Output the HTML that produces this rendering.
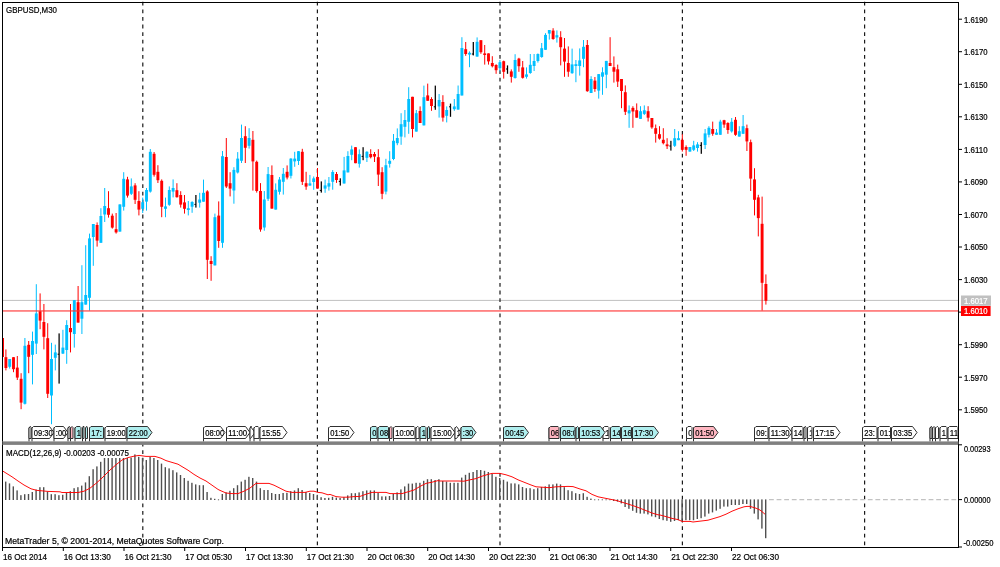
<!DOCTYPE html>
<html><head><meta charset="utf-8"><title>GBPUSD,M30</title>
<style>html,body{margin:0;padding:0;background:#fff;overflow:hidden}body{width:1000px;height:567px;font-family:"Liberation Sans",sans-serif}</style></head>
<body>
<svg width="1000" height="567" viewBox="0 0 1000 567" style="display:block;will-change:transform">
<rect x="0" y="0" width="1000" height="567" fill="#ffffff"/>
<rect x="3" y="299.9" width="955" height="1" fill="#c0c0c0"/>
<line x1="142.8" y1="1.8" x2="142.8" y2="441" stroke="#1a1a1a" stroke-width="1.2" stroke-dasharray="3.8 3.8"/>
<line x1="317.4" y1="1.8" x2="317.4" y2="441" stroke="#1a1a1a" stroke-width="1.2" stroke-dasharray="3.8 3.8"/>
<line x1="500.0" y1="1.8" x2="500.0" y2="441" stroke="#1a1a1a" stroke-width="1.2" stroke-dasharray="3.8 3.8"/>
<line x1="682.4" y1="1.8" x2="682.4" y2="441" stroke="#1a1a1a" stroke-width="1.2" stroke-dasharray="3.8 3.8"/>
<line x1="864.6" y1="1.8" x2="864.6" y2="441" stroke="#1a1a1a" stroke-width="1.2" stroke-dasharray="3.8 3.8"/>
<line x1="142.8" y1="442.6" x2="142.8" y2="545.2" stroke="#1a1a1a" stroke-width="1.2" stroke-dasharray="3.8 3.8"/>
<line x1="317.4" y1="442.6" x2="317.4" y2="545.2" stroke="#1a1a1a" stroke-width="1.2" stroke-dasharray="3.8 3.8"/>
<line x1="500.0" y1="442.6" x2="500.0" y2="545.2" stroke="#1a1a1a" stroke-width="1.2" stroke-dasharray="3.8 3.8"/>
<line x1="682.4" y1="442.6" x2="682.4" y2="545.2" stroke="#1a1a1a" stroke-width="1.2" stroke-dasharray="3.8 3.8"/>
<line x1="864.6" y1="442.6" x2="864.6" y2="545.2" stroke="#1a1a1a" stroke-width="1.2" stroke-dasharray="3.8 3.8"/>
<rect x="3" y="338.0" width="1" height="19.0" fill="#ff0000"/>
<rect x="5.40" y="349.4" width="1" height="21.0" fill="#ff0000"/>
<rect x="4.45" y="357.2" width="2.9" height="10.8" fill="#ff0000"/>
<rect x="9.20" y="359.0" width="1" height="9.6" fill="#00bfff"/>
<rect x="8.25" y="359.0" width="2.9" height="7.8" fill="#00bfff"/>
<rect x="13.00" y="357.2" width="1" height="15.0" fill="#ff0000"/>
<rect x="12.05" y="357.2" width="2.9" height="12.0" fill="#ff0000"/>
<rect x="16.80" y="356.0" width="1" height="24.0" fill="#ff0000"/>
<rect x="15.85" y="367.6" width="2.9" height="10.0" fill="#ff0000"/>
<rect x="20.60" y="373.2" width="1" height="36.0" fill="#ff0000"/>
<rect x="19.65" y="378.8" width="2.9" height="23.8" fill="#ff0000"/>
<rect x="24.40" y="338.0" width="1" height="66.5" fill="#00bfff"/>
<rect x="23.45" y="345.8" width="2.9" height="58.0" fill="#00bfff"/>
<rect x="28.20" y="341.0" width="1" height="32.2" fill="#ff0000"/>
<rect x="27.25" y="344.8" width="2.9" height="12.0" fill="#ff0000"/>
<rect x="32.00" y="331.6" width="1" height="52.8" fill="#00bfff"/>
<rect x="31.05" y="341.0" width="2.9" height="13.8" fill="#00bfff"/>
<rect x="35.80" y="284.2" width="1" height="69.8" fill="#00bfff"/>
<rect x="34.85" y="313.4" width="2.9" height="30.2" fill="#00bfff"/>
<rect x="39.60" y="293.4" width="1" height="35.8" fill="#ff0000"/>
<rect x="38.65" y="311.2" width="2.9" height="9.4" fill="#ff0000"/>
<rect x="43.40" y="304.0" width="1" height="45.4" fill="#ff0000"/>
<rect x="42.45" y="322.0" width="2.9" height="14.8" fill="#ff0000"/>
<rect x="47.20" y="323.2" width="1" height="74.8" fill="#ff0000"/>
<rect x="46.25" y="338.2" width="2.9" height="55.6" fill="#ff0000"/>
<rect x="51.00" y="342.8" width="1" height="81.4" fill="#00bfff"/>
<rect x="50.05" y="359.0" width="2.9" height="36.5" fill="#00bfff"/>
<rect x="54.80" y="344.6" width="1" height="25.8" fill="#00bfff"/>
<rect x="53.85" y="352.4" width="2.9" height="5.4" fill="#00bfff"/>
<rect x="58.48" y="333.4" width="1.25" height="50.2" fill="#000000"/>
<rect x="57.60" y="353.7" width="1.5" height="1" fill="#000000"/>
<rect x="62.40" y="329.8" width="1" height="24.2" fill="#00bfff"/>
<rect x="61.45" y="347.6" width="2.9" height="6.0" fill="#00bfff"/>
<rect x="66.20" y="320.2" width="1" height="43.6" fill="#00bfff"/>
<rect x="65.25" y="325.0" width="2.9" height="25.0" fill="#00bfff"/>
<rect x="70.00" y="304.0" width="1" height="48.4" fill="#ff0000"/>
<rect x="69.05" y="328.0" width="2.9" height="4.2" fill="#ff0000"/>
<rect x="73.80" y="300.2" width="1" height="47.4" fill="#00bfff"/>
<rect x="72.85" y="300.2" width="2.9" height="33.8" fill="#00bfff"/>
<rect x="77.60" y="286.0" width="1" height="36.6" fill="#ff0000"/>
<rect x="76.65" y="302.2" width="2.9" height="20.4" fill="#ff0000"/>
<rect x="81.40" y="265.2" width="1" height="68.8" fill="#00bfff"/>
<rect x="80.45" y="302.2" width="2.9" height="16.5" fill="#00bfff"/>
<rect x="85.20" y="245.2" width="1" height="59.4" fill="#00bfff"/>
<rect x="84.25" y="295.0" width="2.9" height="9.6" fill="#00bfff"/>
<rect x="89.00" y="233.6" width="1" height="77.0" fill="#00bfff"/>
<rect x="88.05" y="238.4" width="2.9" height="59.4" fill="#00bfff"/>
<rect x="92.80" y="224.0" width="1" height="41.8" fill="#00bfff"/>
<rect x="91.85" y="224.0" width="2.9" height="13.0" fill="#00bfff"/>
<rect x="96.60" y="222.4" width="1" height="24.2" fill="#ff0000"/>
<rect x="95.65" y="225.0" width="2.9" height="15.6" fill="#ff0000"/>
<rect x="100.40" y="208.2" width="1" height="34.6" fill="#00bfff"/>
<rect x="99.45" y="216.0" width="2.9" height="26.8" fill="#00bfff"/>
<rect x="104.20" y="188.0" width="1" height="34.0" fill="#00bfff"/>
<rect x="103.25" y="206.0" width="2.9" height="8.5" fill="#00bfff"/>
<rect x="108.00" y="191.2" width="1" height="26.4" fill="#ff0000"/>
<rect x="107.05" y="208.2" width="2.9" height="6.6" fill="#ff0000"/>
<rect x="111.80" y="213.6" width="1" height="15.0" fill="#ff0000"/>
<rect x="110.85" y="215.7" width="2.9" height="11.9" fill="#ff0000"/>
<rect x="115.60" y="213.0" width="1" height="20.6" fill="#ff0000"/>
<rect x="114.65" y="229.2" width="2.9" height="3.2" fill="#ff0000"/>
<rect x="119.40" y="204.4" width="1" height="27.2" fill="#00bfff"/>
<rect x="118.45" y="204.4" width="2.9" height="27.2" fill="#00bfff"/>
<rect x="123.20" y="172.2" width="1" height="38.4" fill="#00bfff"/>
<rect x="122.25" y="178.8" width="2.9" height="28.0" fill="#00bfff"/>
<rect x="127.00" y="176.8" width="1" height="20.8" fill="#ff0000"/>
<rect x="126.05" y="179.4" width="2.9" height="16.2" fill="#ff0000"/>
<rect x="130.80" y="178.4" width="1" height="16.6" fill="#00bfff"/>
<rect x="129.85" y="186.4" width="2.9" height="7.4" fill="#00bfff"/>
<rect x="134.60" y="183.2" width="1" height="20.8" fill="#ff0000"/>
<rect x="133.65" y="185.4" width="2.9" height="14.4" fill="#ff0000"/>
<rect x="138.40" y="191.2" width="1" height="24.2" fill="#ff0000"/>
<rect x="137.45" y="201.0" width="2.9" height="8.6" fill="#ff0000"/>
<rect x="142.20" y="197.6" width="1" height="15.4" fill="#00bfff"/>
<rect x="141.25" y="202.2" width="2.9" height="6.6" fill="#00bfff"/>
<rect x="146.00" y="188.0" width="1" height="22.6" fill="#00bfff"/>
<rect x="145.05" y="190.0" width="2.9" height="11.6" fill="#00bfff"/>
<rect x="149.80" y="149.0" width="1" height="43.6" fill="#00bfff"/>
<rect x="148.85" y="151.8" width="2.9" height="39.8" fill="#00bfff"/>
<rect x="153.60" y="152.0" width="1" height="24.6" fill="#ff0000"/>
<rect x="152.65" y="153.8" width="2.9" height="21.0" fill="#ff0000"/>
<rect x="157.40" y="165.2" width="1" height="17.8" fill="#ff0000"/>
<rect x="156.45" y="171.8" width="2.9" height="8.4" fill="#ff0000"/>
<rect x="161.20" y="179.4" width="1" height="37.8" fill="#ff0000"/>
<rect x="160.25" y="180.8" width="2.9" height="26.0" fill="#ff0000"/>
<rect x="165.00" y="197.6" width="1" height="19.6" fill="#00bfff"/>
<rect x="164.05" y="206.4" width="2.9" height="2.4" fill="#00bfff"/>
<rect x="168.80" y="186.4" width="1" height="19.4" fill="#00bfff"/>
<rect x="167.85" y="190.0" width="2.9" height="14.8" fill="#00bfff"/>
<rect x="172.60" y="179.4" width="1" height="18.0" fill="#00bfff"/>
<rect x="171.65" y="188.0" width="2.9" height="3.6" fill="#00bfff"/>
<rect x="176.40" y="183.2" width="1" height="14.4" fill="#ff0000"/>
<rect x="175.45" y="190.2" width="2.9" height="7.0" fill="#ff0000"/>
<rect x="180.20" y="191.2" width="1" height="16.4" fill="#ff0000"/>
<rect x="179.25" y="195.0" width="2.9" height="9.6" fill="#ff0000"/>
<rect x="184.00" y="195.0" width="1" height="18.6" fill="#ff0000"/>
<rect x="183.05" y="202.4" width="2.9" height="6.4" fill="#ff0000"/>
<rect x="187.80" y="201.0" width="1" height="14.4" fill="#00bfff"/>
<rect x="186.85" y="208.2" width="2.9" height="1.8" fill="#00bfff"/>
<rect x="191.60" y="201.2" width="1" height="11.6" fill="#00bfff"/>
<rect x="190.65" y="202.0" width="2.9" height="4.7" fill="#00bfff"/>
<rect x="195.27" y="195.0" width="1.25" height="12.6" fill="#000000"/>
<rect x="194.40" y="203.9" width="1.5" height="1" fill="#000000"/>
<rect x="199.20" y="192.8" width="1" height="14.8" fill="#00bfff"/>
<rect x="198.25" y="199.5" width="2.9" height="3.2" fill="#00bfff"/>
<rect x="203.00" y="179.6" width="1" height="22.1" fill="#00bfff"/>
<rect x="202.05" y="192.8" width="2.9" height="8.9" fill="#00bfff"/>
<rect x="206.80" y="190.2" width="1" height="88.8" fill="#ff0000"/>
<rect x="205.85" y="191.4" width="2.9" height="68.4" fill="#ff0000"/>
<rect x="210.60" y="256.2" width="1" height="24.6" fill="#ff0000"/>
<rect x="209.65" y="261.0" width="2.9" height="3.0" fill="#ff0000"/>
<rect x="214.40" y="213.6" width="1" height="51.8" fill="#00bfff"/>
<rect x="213.45" y="217.2" width="2.9" height="48.2" fill="#00bfff"/>
<rect x="218.20" y="201.4" width="1" height="46.4" fill="#ff0000"/>
<rect x="217.25" y="215.6" width="2.9" height="25.4" fill="#ff0000"/>
<rect x="222.00" y="151.0" width="1" height="96.8" fill="#00bfff"/>
<rect x="221.05" y="156.2" width="2.9" height="86.6" fill="#00bfff"/>
<rect x="225.80" y="138.0" width="1" height="50.0" fill="#ff0000"/>
<rect x="224.85" y="157.0" width="2.9" height="29.5" fill="#ff0000"/>
<rect x="229.60" y="172.2" width="1" height="24.2" fill="#ff0000"/>
<rect x="228.65" y="183.2" width="2.9" height="5.4" fill="#ff0000"/>
<rect x="233.40" y="167.2" width="1" height="36.5" fill="#00bfff"/>
<rect x="232.45" y="169.9" width="2.9" height="20.6" fill="#00bfff"/>
<rect x="237.20" y="152.1" width="1" height="21.4" fill="#00bfff"/>
<rect x="236.25" y="158.6" width="2.9" height="13.9" fill="#00bfff"/>
<rect x="241.00" y="124.6" width="1" height="38.4" fill="#00bfff"/>
<rect x="240.05" y="138.0" width="2.9" height="22.8" fill="#00bfff"/>
<rect x="244.80" y="126.2" width="1" height="36.8" fill="#ff0000"/>
<rect x="243.85" y="136.2" width="2.9" height="11.6" fill="#ff0000"/>
<rect x="248.60" y="128.2" width="1" height="20.4" fill="#00bfff"/>
<rect x="247.65" y="138.0" width="2.9" height="7.8" fill="#00bfff"/>
<rect x="252.40" y="131.0" width="1" height="59.6" fill="#ff0000"/>
<rect x="251.45" y="139.8" width="2.9" height="21.6" fill="#ff0000"/>
<rect x="256.20" y="160.6" width="1" height="32.0" fill="#ff0000"/>
<rect x="255.25" y="161.8" width="2.9" height="29.2" fill="#ff0000"/>
<rect x="260.00" y="183.1" width="1" height="48.6" fill="#ff0000"/>
<rect x="259.05" y="191.0" width="2.9" height="38.5" fill="#ff0000"/>
<rect x="263.80" y="191.0" width="1" height="39.7" fill="#00bfff"/>
<rect x="262.85" y="199.5" width="2.9" height="28.0" fill="#00bfff"/>
<rect x="267.60" y="167.0" width="1" height="34.0" fill="#00bfff"/>
<rect x="266.65" y="174.1" width="2.9" height="24.7" fill="#00bfff"/>
<rect x="271.40" y="165.4" width="1" height="43.2" fill="#ff0000"/>
<rect x="270.45" y="175.0" width="2.9" height="33.6" fill="#ff0000"/>
<rect x="275.20" y="183.4" width="1" height="26.2" fill="#00bfff"/>
<rect x="274.25" y="189.8" width="2.9" height="19.8" fill="#00bfff"/>
<rect x="279.00" y="177.0" width="1" height="17.6" fill="#00bfff"/>
<rect x="278.05" y="179.5" width="2.9" height="12.3" fill="#00bfff"/>
<rect x="282.80" y="168.0" width="1" height="26.6" fill="#00bfff"/>
<rect x="281.85" y="173.8" width="2.9" height="8.0" fill="#00bfff"/>
<rect x="286.60" y="165.4" width="1" height="14.0" fill="#ff0000"/>
<rect x="285.65" y="171.8" width="2.9" height="5.7" fill="#ff0000"/>
<rect x="290.40" y="158.2" width="1" height="20.3" fill="#00bfff"/>
<rect x="289.45" y="158.6" width="2.9" height="17.2" fill="#00bfff"/>
<rect x="294.20" y="151.8" width="1" height="15.0" fill="#00bfff"/>
<rect x="293.25" y="158.6" width="2.9" height="2.8" fill="#00bfff"/>
<rect x="298.00" y="151.0" width="1" height="14.0" fill="#00bfff"/>
<rect x="297.05" y="151.2" width="2.9" height="9.8" fill="#00bfff"/>
<rect x="301.80" y="148.8" width="1" height="36.2" fill="#ff0000"/>
<rect x="300.85" y="151.8" width="2.9" height="30.0" fill="#ff0000"/>
<rect x="305.60" y="171.8" width="1" height="18.0" fill="#ff0000"/>
<rect x="304.65" y="183.2" width="2.9" height="3.4" fill="#ff0000"/>
<rect x="309.40" y="174.9" width="1" height="10.7" fill="#00bfff"/>
<rect x="308.45" y="183.4" width="2.9" height="2.2" fill="#00bfff"/>
<rect x="313.20" y="176.5" width="1" height="13.3" fill="#00bfff"/>
<rect x="312.25" y="178.4" width="2.9" height="3.6" fill="#00bfff"/>
<rect x="317.00" y="168.0" width="1" height="20.6" fill="#ff0000"/>
<rect x="316.05" y="177.0" width="2.9" height="11.6" fill="#ff0000"/>
<rect x="320.68" y="181.4" width="1.25" height="11.2" fill="#000000"/>
<rect x="319.80" y="189.9" width="1.5" height="1" fill="#000000"/>
<rect x="324.60" y="179.6" width="1" height="13.2" fill="#00bfff"/>
<rect x="323.65" y="185.4" width="2.9" height="3.2" fill="#00bfff"/>
<rect x="328.40" y="177.0" width="1" height="13.6" fill="#00bfff"/>
<rect x="327.45" y="183.2" width="2.9" height="3.4" fill="#00bfff"/>
<rect x="332.20" y="170.1" width="1" height="19.6" fill="#00bfff"/>
<rect x="331.25" y="172.0" width="2.9" height="9.8" fill="#00bfff"/>
<rect x="336.00" y="172.0" width="1" height="10.9" fill="#ff0000"/>
<rect x="335.05" y="174.0" width="2.9" height="6.0" fill="#ff0000"/>
<rect x="339.68" y="178.3" width="1.25" height="7.3" fill="#000000"/>
<rect x="338.80" y="180.9" width="1.5" height="1" fill="#000000"/>
<rect x="343.60" y="156.9" width="1" height="26.6" fill="#00bfff"/>
<rect x="342.65" y="170.4" width="2.9" height="13.1" fill="#00bfff"/>
<rect x="347.40" y="151.2" width="1" height="21.2" fill="#00bfff"/>
<rect x="346.45" y="156.0" width="2.9" height="16.4" fill="#00bfff"/>
<rect x="351.20" y="145.6" width="1" height="14.6" fill="#00bfff"/>
<rect x="350.25" y="149.4" width="2.9" height="5.4" fill="#00bfff"/>
<rect x="355.00" y="147.2" width="1" height="16.0" fill="#ff0000"/>
<rect x="354.05" y="147.2" width="2.9" height="16.0" fill="#ff0000"/>
<rect x="358.80" y="149.4" width="1" height="18.2" fill="#00bfff"/>
<rect x="357.85" y="154.2" width="2.9" height="9.6" fill="#00bfff"/>
<rect x="362.48" y="147.2" width="1.25" height="13.0" fill="#000000"/>
<rect x="361.60" y="155.9" width="1.5" height="1" fill="#000000"/>
<rect x="366.40" y="151.2" width="1" height="10.8" fill="#00bfff"/>
<rect x="365.45" y="151.8" width="2.9" height="6.0" fill="#00bfff"/>
<rect x="370.20" y="149.2" width="1" height="9.2" fill="#ff0000"/>
<rect x="369.25" y="154.0" width="2.9" height="3.2" fill="#ff0000"/>
<rect x="374.00" y="152.0" width="1" height="10.0" fill="#ff0000"/>
<rect x="373.05" y="154.0" width="2.9" height="2.6" fill="#ff0000"/>
<rect x="377.80" y="149.2" width="1" height="36.8" fill="#ff0000"/>
<rect x="376.85" y="157.2" width="2.9" height="17.4" fill="#ff0000"/>
<rect x="381.60" y="167.2" width="1" height="32.0" fill="#ff0000"/>
<rect x="380.65" y="172.2" width="2.9" height="21.6" fill="#ff0000"/>
<rect x="385.40" y="158.8" width="1" height="35.6" fill="#00bfff"/>
<rect x="384.45" y="165.2" width="2.9" height="26.4" fill="#00bfff"/>
<rect x="389.20" y="151.2" width="1" height="16.4" fill="#00bfff"/>
<rect x="388.25" y="160.8" width="2.9" height="3.0" fill="#00bfff"/>
<rect x="393.00" y="134.0" width="1" height="26.2" fill="#00bfff"/>
<rect x="392.05" y="140.8" width="2.9" height="18.2" fill="#00bfff"/>
<rect x="396.80" y="128.4" width="1" height="16.8" fill="#00bfff"/>
<rect x="395.85" y="138.0" width="2.9" height="5.2" fill="#00bfff"/>
<rect x="400.60" y="113.2" width="1" height="31.6" fill="#00bfff"/>
<rect x="399.65" y="124.2" width="2.9" height="12.4" fill="#00bfff"/>
<rect x="404.40" y="110.0" width="1" height="27.4" fill="#00bfff"/>
<rect x="403.45" y="120.0" width="2.9" height="6.8" fill="#00bfff"/>
<rect x="408.20" y="87.2" width="1" height="46.6" fill="#00bfff"/>
<rect x="407.25" y="99.0" width="2.9" height="22.8" fill="#00bfff"/>
<rect x="412.00" y="96.8" width="1" height="40.6" fill="#ff0000"/>
<rect x="411.05" y="96.8" width="2.9" height="32.2" fill="#ff0000"/>
<rect x="415.80" y="110.0" width="1" height="21.6" fill="#00bfff"/>
<rect x="414.85" y="113.2" width="2.9" height="18.4" fill="#00bfff"/>
<rect x="419.60" y="106.4" width="1" height="16.6" fill="#ff0000"/>
<rect x="418.65" y="111.0" width="2.9" height="12.0" fill="#ff0000"/>
<rect x="423.40" y="85.6" width="1" height="39.8" fill="#00bfff"/>
<rect x="422.45" y="97.2" width="2.9" height="28.2" fill="#00bfff"/>
<rect x="427.20" y="83.6" width="1" height="17.2" fill="#ff0000"/>
<rect x="426.25" y="95.4" width="2.9" height="5.4" fill="#ff0000"/>
<rect x="431.00" y="97.2" width="1" height="13.6" fill="#ff0000"/>
<rect x="430.05" y="99.0" width="2.9" height="7.0" fill="#ff0000"/>
<rect x="434.68" y="85.6" width="1.25" height="24.2" fill="#000000"/>
<rect x="433.80" y="106.3" width="1.5" height="1" fill="#000000"/>
<rect x="438.60" y="94.0" width="1" height="23.6" fill="#00bfff"/>
<rect x="437.65" y="100.0" width="2.9" height="6.4" fill="#00bfff"/>
<rect x="442.40" y="95.2" width="1" height="26.4" fill="#ff0000"/>
<rect x="441.45" y="102.0" width="2.9" height="15.6" fill="#ff0000"/>
<rect x="446.20" y="106.4" width="1" height="16.0" fill="#00bfff"/>
<rect x="445.25" y="110.0" width="2.9" height="5.8" fill="#00bfff"/>
<rect x="449.88" y="103.6" width="1.25" height="13.2" fill="#000000"/>
<rect x="449.00" y="106.3" width="1.5" height="1" fill="#000000"/>
<rect x="453.80" y="99.0" width="1" height="11.8" fill="#00bfff"/>
<rect x="452.85" y="106.4" width="2.9" height="2.8" fill="#00bfff"/>
<rect x="457.60" y="85.5" width="1" height="24.1" fill="#00bfff"/>
<rect x="456.65" y="94.0" width="2.9" height="15.6" fill="#00bfff"/>
<rect x="461.40" y="37.2" width="1" height="58.3" fill="#00bfff"/>
<rect x="460.45" y="48.0" width="2.9" height="47.5" fill="#00bfff"/>
<rect x="465.20" y="42.0" width="1" height="13.8" fill="#ff0000"/>
<rect x="464.25" y="49.2" width="2.9" height="4.8" fill="#ff0000"/>
<rect x="469.00" y="51.4" width="1" height="15.8" fill="#00bfff"/>
<rect x="468.05" y="52.8" width="2.9" height="1.8" fill="#00bfff"/>
<rect x="472.68" y="42.0" width="1.25" height="13.4" fill="#000000"/>
<rect x="471.80" y="53.5" width="1.5" height="1" fill="#000000"/>
<rect x="476.60" y="37.4" width="1" height="19.2" fill="#00bfff"/>
<rect x="475.65" y="41.8" width="2.9" height="14.8" fill="#00bfff"/>
<rect x="480.40" y="40.2" width="1" height="13.6" fill="#ff0000"/>
<rect x="479.45" y="40.2" width="2.9" height="12.0" fill="#ff0000"/>
<rect x="484.20" y="45.0" width="1" height="19.6" fill="#ff0000"/>
<rect x="483.25" y="53.4" width="2.9" height="1.6" fill="#ff0000"/>
<rect x="488.00" y="53.4" width="1" height="11.2" fill="#ff0000"/>
<rect x="487.05" y="53.4" width="2.9" height="8.0" fill="#ff0000"/>
<rect x="491.80" y="56.2" width="1" height="11.2" fill="#ff0000"/>
<rect x="490.85" y="63.0" width="2.9" height="3.2" fill="#ff0000"/>
<rect x="495.60" y="64.2" width="1" height="9.6" fill="#ff0000"/>
<rect x="494.65" y="65.0" width="2.9" height="5.2" fill="#ff0000"/>
<rect x="499.40" y="60.0" width="1" height="11.4" fill="#00bfff"/>
<rect x="498.45" y="62.2" width="2.9" height="6.0" fill="#00bfff"/>
<rect x="503.20" y="60.6" width="1" height="18.0" fill="#ff0000"/>
<rect x="502.25" y="61.2" width="2.9" height="10.6" fill="#ff0000"/>
<rect x="506.88" y="65.4" width="1.25" height="8.4" fill="#000000"/>
<rect x="506.00" y="68.5" width="1.5" height="1" fill="#000000"/>
<rect x="510.80" y="69.4" width="1" height="13.2" fill="#ff0000"/>
<rect x="509.85" y="71.4" width="2.9" height="5.4" fill="#ff0000"/>
<rect x="514.60" y="54.2" width="1" height="24.4" fill="#00bfff"/>
<rect x="513.65" y="60.0" width="2.9" height="18.0" fill="#00bfff"/>
<rect x="518.40" y="57.8" width="1" height="14.0" fill="#ff0000"/>
<rect x="517.45" y="58.6" width="2.9" height="7.6" fill="#ff0000"/>
<rect x="522.20" y="61.0" width="1" height="17.6" fill="#ff0000"/>
<rect x="521.25" y="67.4" width="2.9" height="10.4" fill="#ff0000"/>
<rect x="526.00" y="67.4" width="1" height="11.2" fill="#00bfff"/>
<rect x="525.05" y="74.4" width="2.9" height="2.4" fill="#00bfff"/>
<rect x="529.80" y="54.0" width="1" height="19.8" fill="#00bfff"/>
<rect x="528.85" y="64.8" width="2.9" height="8.2" fill="#00bfff"/>
<rect x="533.60" y="54.0" width="1" height="17.0" fill="#00bfff"/>
<rect x="532.65" y="61.0" width="2.9" height="5.0" fill="#00bfff"/>
<rect x="537.40" y="53.4" width="1" height="9.2" fill="#00bfff"/>
<rect x="536.45" y="54.0" width="2.9" height="7.0" fill="#00bfff"/>
<rect x="541.20" y="43.0" width="1" height="14.8" fill="#00bfff"/>
<rect x="540.25" y="48.2" width="2.9" height="8.8" fill="#00bfff"/>
<rect x="545.00" y="33.2" width="1" height="16.6" fill="#00bfff"/>
<rect x="544.05" y="34.9" width="2.9" height="14.9" fill="#00bfff"/>
<rect x="548.80" y="30.0" width="1" height="9.6" fill="#00bfff"/>
<rect x="547.85" y="30.0" width="2.9" height="3.6" fill="#00bfff"/>
<rect x="552.60" y="28.2" width="1" height="11.6" fill="#ff0000"/>
<rect x="551.65" y="30.6" width="2.9" height="8.4" fill="#ff0000"/>
<rect x="556.40" y="30.4" width="1" height="12.2" fill="#00bfff"/>
<rect x="555.45" y="35.2" width="2.9" height="2.3" fill="#00bfff"/>
<rect x="560.20" y="31.2" width="1" height="34.2" fill="#ff0000"/>
<rect x="559.25" y="37.2" width="2.9" height="10.0" fill="#ff0000"/>
<rect x="564.00" y="38.0" width="1" height="38.8" fill="#ff0000"/>
<rect x="563.05" y="48.6" width="2.9" height="13.0" fill="#ff0000"/>
<rect x="567.80" y="46.4" width="1" height="30.4" fill="#ff0000"/>
<rect x="566.85" y="63.0" width="2.9" height="8.7" fill="#ff0000"/>
<rect x="571.60" y="48.6" width="1" height="25.2" fill="#00bfff"/>
<rect x="570.65" y="64.4" width="2.9" height="8.8" fill="#00bfff"/>
<rect x="575.40" y="60.0" width="1" height="22.2" fill="#00bfff"/>
<rect x="574.45" y="64.2" width="2.9" height="1.8" fill="#00bfff"/>
<rect x="579.20" y="48.4" width="1" height="27.2" fill="#00bfff"/>
<rect x="578.25" y="60.4" width="2.9" height="5.6" fill="#00bfff"/>
<rect x="583.00" y="40.0" width="1" height="27.2" fill="#00bfff"/>
<rect x="582.05" y="46.8" width="2.9" height="12.0" fill="#00bfff"/>
<rect x="586.80" y="40.0" width="1" height="51.8" fill="#ff0000"/>
<rect x="585.85" y="45.0" width="2.9" height="46.2" fill="#ff0000"/>
<rect x="590.60" y="76.2" width="1" height="16.8" fill="#00bfff"/>
<rect x="589.65" y="79.0" width="2.9" height="14.0" fill="#00bfff"/>
<rect x="594.40" y="77.0" width="1" height="14.8" fill="#ff0000"/>
<rect x="593.45" y="80.6" width="2.9" height="8.4" fill="#ff0000"/>
<rect x="598.20" y="74.1" width="1" height="24.5" fill="#00bfff"/>
<rect x="597.25" y="74.1" width="2.9" height="16.5" fill="#00bfff"/>
<rect x="602.00" y="67.3" width="1" height="27.5" fill="#00bfff"/>
<rect x="601.05" y="72.3" width="2.9" height="4.4" fill="#00bfff"/>
<rect x="605.80" y="60.9" width="1" height="27.3" fill="#00bfff"/>
<rect x="604.85" y="60.9" width="2.9" height="13.8" fill="#00bfff"/>
<rect x="609.60" y="37.2" width="1" height="28.8" fill="#ff0000"/>
<rect x="608.65" y="63.0" width="2.9" height="3.0" fill="#ff0000"/>
<rect x="613.40" y="56.4" width="1" height="26.2" fill="#ff0000"/>
<rect x="612.45" y="67.2" width="2.9" height="4.5" fill="#ff0000"/>
<rect x="617.20" y="64.6" width="1" height="22.4" fill="#ff0000"/>
<rect x="616.25" y="69.3" width="2.9" height="12.3" fill="#ff0000"/>
<rect x="621.00" y="79.0" width="1" height="29.2" fill="#ff0000"/>
<rect x="620.05" y="79.0" width="2.9" height="12.0" fill="#ff0000"/>
<rect x="624.80" y="85.4" width="1" height="29.6" fill="#ff0000"/>
<rect x="623.85" y="92.2" width="2.9" height="19.6" fill="#ff0000"/>
<rect x="628.60" y="105.4" width="1" height="22.4" fill="#00bfff"/>
<rect x="627.65" y="110.3" width="2.9" height="3.1" fill="#00bfff"/>
<rect x="632.40" y="106.2" width="1" height="21.6" fill="#ff0000"/>
<rect x="631.45" y="107.9" width="2.9" height="3.6" fill="#ff0000"/>
<rect x="636.20" y="103.4" width="1" height="14.3" fill="#ff0000"/>
<rect x="635.25" y="110.2" width="2.9" height="7.5" fill="#ff0000"/>
<rect x="640.00" y="106.2" width="1" height="12.7" fill="#00bfff"/>
<rect x="639.05" y="111.2" width="2.9" height="7.7" fill="#00bfff"/>
<rect x="643.80" y="105.4" width="1" height="9.6" fill="#00bfff"/>
<rect x="642.85" y="110.3" width="2.9" height="3.6" fill="#00bfff"/>
<rect x="647.60" y="106.2" width="1" height="15.3" fill="#ff0000"/>
<rect x="646.65" y="111.2" width="2.9" height="6.5" fill="#ff0000"/>
<rect x="651.40" y="118.0" width="1" height="10.8" fill="#ff0000"/>
<rect x="650.45" y="118.0" width="2.9" height="9.4" fill="#ff0000"/>
<rect x="655.20" y="124.5" width="1" height="18.1" fill="#ff0000"/>
<rect x="654.25" y="128.2" width="2.9" height="5.6" fill="#ff0000"/>
<rect x="659.00" y="126.2" width="1" height="13.4" fill="#ff0000"/>
<rect x="658.05" y="134.2" width="2.9" height="4.4" fill="#ff0000"/>
<rect x="662.80" y="128.2" width="1" height="16.2" fill="#ff0000"/>
<rect x="661.85" y="139.8" width="2.9" height="3.4" fill="#ff0000"/>
<rect x="666.60" y="138.2" width="1" height="10.8" fill="#ff0000"/>
<rect x="665.65" y="144.4" width="2.9" height="1.8" fill="#ff0000"/>
<rect x="670.27" y="140.8" width="1.25" height="9.8" fill="#000000"/>
<rect x="669.40" y="145.5" width="1.5" height="1" fill="#000000"/>
<rect x="674.20" y="129.0" width="1" height="18.0" fill="#00bfff"/>
<rect x="673.25" y="138.2" width="2.9" height="7.6" fill="#00bfff"/>
<rect x="678.00" y="131.2" width="1" height="9.0" fill="#00bfff"/>
<rect x="677.05" y="138.2" width="2.9" height="2.0" fill="#00bfff"/>
<rect x="681.80" y="134.2" width="1" height="17.4" fill="#ff0000"/>
<rect x="680.85" y="139.8" width="2.9" height="10.0" fill="#ff0000"/>
<rect x="685.60" y="145.4" width="1" height="10.4" fill="#ff0000"/>
<rect x="684.65" y="147.0" width="2.9" height="2.8" fill="#ff0000"/>
<rect x="689.40" y="147.0" width="1" height="4.6" fill="#00bfff"/>
<rect x="688.45" y="147.0" width="2.9" height="4.6" fill="#00bfff"/>
<rect x="693.20" y="140.8" width="1" height="10.2" fill="#00bfff"/>
<rect x="692.25" y="145.4" width="2.9" height="4.4" fill="#00bfff"/>
<rect x="697.00" y="142.2" width="1" height="9.4" fill="#00bfff"/>
<rect x="696.05" y="144.4" width="2.9" height="3.6" fill="#00bfff"/>
<rect x="700.67" y="142.2" width="1.25" height="11.6" fill="#000000"/>
<rect x="699.80" y="144.9" width="1.5" height="1" fill="#000000"/>
<rect x="704.60" y="129.0" width="1" height="20.0" fill="#00bfff"/>
<rect x="703.65" y="133.4" width="2.9" height="11.6" fill="#00bfff"/>
<rect x="708.40" y="126.2" width="1" height="11.2" fill="#00bfff"/>
<rect x="707.45" y="127.8" width="2.9" height="7.0" fill="#00bfff"/>
<rect x="712.20" y="121.6" width="1" height="14.2" fill="#ff0000"/>
<rect x="711.25" y="129.0" width="2.9" height="4.8" fill="#ff0000"/>
<rect x="716.00" y="129.0" width="1" height="5.8" fill="#00bfff"/>
<rect x="715.05" y="132.6" width="2.9" height="2.2" fill="#00bfff"/>
<rect x="719.80" y="119.8" width="1" height="15.0" fill="#00bfff"/>
<rect x="718.85" y="121.6" width="2.9" height="13.2" fill="#00bfff"/>
<rect x="723.60" y="119.8" width="1" height="8.0" fill="#ff0000"/>
<rect x="722.65" y="120.2" width="2.9" height="4.4" fill="#ff0000"/>
<rect x="727.40" y="122.2" width="1" height="11.6" fill="#ff0000"/>
<rect x="726.45" y="123.0" width="2.9" height="7.0" fill="#ff0000"/>
<rect x="731.20" y="118.0" width="1" height="14.6" fill="#00bfff"/>
<rect x="730.25" y="121.8" width="2.9" height="9.6" fill="#00bfff"/>
<rect x="735.00" y="117.0" width="1" height="18.8" fill="#ff0000"/>
<rect x="734.05" y="119.8" width="2.9" height="15.0" fill="#ff0000"/>
<rect x="738.80" y="126.2" width="1" height="10.4" fill="#00bfff"/>
<rect x="737.85" y="131.2" width="2.9" height="5.4" fill="#00bfff"/>
<rect x="742.60" y="115.0" width="1" height="18.8" fill="#00bfff"/>
<rect x="741.65" y="126.2" width="2.9" height="7.6" fill="#00bfff"/>
<rect x="746.40" y="124.6" width="1" height="26.4" fill="#ff0000"/>
<rect x="745.45" y="128.2" width="2.9" height="13.2" fill="#ff0000"/>
<rect x="750.20" y="139.6" width="1" height="51.4" fill="#ff0000"/>
<rect x="749.25" y="142.2" width="2.9" height="36.4" fill="#ff0000"/>
<rect x="754.00" y="168.2" width="1" height="47.2" fill="#ff0000"/>
<rect x="753.05" y="179.4" width="2.9" height="20.4" fill="#ff0000"/>
<rect x="757.80" y="194.8" width="1" height="41.6" fill="#ff0000"/>
<rect x="756.85" y="197.4" width="2.9" height="20.7" fill="#ff0000"/>
<rect x="761.60" y="196.6" width="1" height="114.0" fill="#ff0000"/>
<rect x="760.65" y="223.8" width="2.9" height="59.0" fill="#ff0000"/>
<rect x="765.40" y="274.4" width="1" height="30.2" fill="#ff0000"/>
<rect x="764.45" y="284.0" width="2.9" height="16.8" fill="#ff0000"/>
<rect x="3" y="310.4" width="955" height="1.1" fill="#ff3030"/>
<line x1="29" y1="427.5" x2="29" y2="441.5" stroke="#303030" stroke-width="1"/>
<path d="M30.5,426.5 L30,426.5 L31,427.5 L31,438.5 L29,438.5 L29,428.0 Z" fill="#ffffff" stroke="#303030" stroke-width="1" stroke-linejoin="round"/>
<line x1="32" y1="427.5" x2="32" y2="441.5" stroke="#303030" stroke-width="1"/>
<path d="M33.5,426.5 L49.5,426.5 L54,432.5 L49.5,438.5 L32,438.5 L32,428.0 Z" fill="#ffffff" stroke="#303030" stroke-width="1" stroke-linejoin="round"/>
<svg x="32" y="426" width="20.5" height="13" overflow="hidden"><text x="1.8" y="10" font-family="Liberation Sans, sans-serif" stroke="#000" stroke-width="0.2" font-size="8.4" textLength="18.9" lengthAdjust="spacingAndGlyphs" fill="#000">09:30</text></svg>
<line x1="54" y1="427.5" x2="54" y2="441.5" stroke="#303030" stroke-width="1"/>
<path d="M55.5,426.5 L63.5,426.5 L68,432.5 L63.5,438.5 L54,438.5 L54,428.0 Z" fill="#ffffff" stroke="#303030" stroke-width="1" stroke-linejoin="round"/>
<svg x="54" y="426" width="12.5" height="13" overflow="hidden"><text x="1.8" y="10" font-family="Liberation Sans, sans-serif" stroke="#000" stroke-width="0.2" font-size="8.4" textLength="10.5" lengthAdjust="spacingAndGlyphs" fill="#000">:00</text></svg>
<line x1="68" y1="427.5" x2="68" y2="441.5" stroke="#303030" stroke-width="1"/>
<path d="M69.5,426.5 L69,426.5 L70,427.5 L70,438.5 L68,438.5 L68,428.0 Z" fill="#ffffff" stroke="#303030" stroke-width="1" stroke-linejoin="round"/>
<line x1="70.5" y1="427.5" x2="70.5" y2="441.5" stroke="#303030" stroke-width="1"/>
<path d="M72.0,426.5 L72,426.5 L73,427.5 L73,438.5 L70.5,438.5 L70.5,428.0 Z" fill="#ffb6c1" stroke="#303030" stroke-width="1" stroke-linejoin="round"/>
<line x1="75" y1="427.5" x2="75" y2="441.5" stroke="#303030" stroke-width="1"/>
<path d="M76.5,426.5 L80,426.5 L81,427.5 L81,438.5 L75,438.5 L75,428.0 Z" fill="#afeeee" stroke="#303030" stroke-width="1" stroke-linejoin="round"/>
<svg x="75" y="426" width="5.4" height="13" overflow="hidden"><text x="1.8" y="10" font-family="Liberation Sans, sans-serif" stroke="#000" stroke-width="0.2" font-size="8.4" textLength="4.2" lengthAdjust="spacingAndGlyphs" fill="#000">1</text></svg>
<line x1="82.5" y1="427.5" x2="82.5" y2="441.5" stroke="#303030" stroke-width="1"/>
<path d="M84.0,426.5 L83,426.5 L84,427.5 L84,438.5 L82.5,438.5 L82.5,428.0 Z" fill="#afeeee" stroke="#303030" stroke-width="1" stroke-linejoin="round"/>
<line x1="85.5" y1="427.5" x2="85.5" y2="441.5" stroke="#303030" stroke-width="1"/>
<path d="M87.0,426.5 L86.5,426.5 L87.5,427.5 L87.5,438.5 L85.5,438.5 L85.5,428.0 Z" fill="#afeeee" stroke="#303030" stroke-width="1" stroke-linejoin="round"/>
<line x1="89.5" y1="427.5" x2="89.5" y2="441.5" stroke="#303030" stroke-width="1"/>
<path d="M91.0,426.5 L102.5,426.5 L103.5,427.5 L103.5,438.5 L89.5,438.5 L89.5,428.0 Z" fill="#afeeee" stroke="#303030" stroke-width="1" stroke-linejoin="round"/>
<svg x="89.5" y="426" width="13.4" height="13" overflow="hidden"><text x="1.8" y="10" font-family="Liberation Sans, sans-serif" stroke="#000" stroke-width="0.2" font-size="8.4" textLength="10.5" lengthAdjust="spacingAndGlyphs" fill="#000">17:</text></svg>
<line x1="105" y1="427.5" x2="105" y2="441.5" stroke="#303030" stroke-width="1"/>
<path d="M106.5,426.5 L125,426.5 L126,427.5 L126,438.5 L105,438.5 L105,428.0 Z" fill="#ffffff" stroke="#303030" stroke-width="1" stroke-linejoin="round"/>
<svg x="105" y="426" width="20.4" height="13" overflow="hidden"><text x="1.8" y="10" font-family="Liberation Sans, sans-serif" stroke="#000" stroke-width="0.2" font-size="8.4" textLength="18.9" lengthAdjust="spacingAndGlyphs" fill="#000">19:00</text></svg>
<line x1="127" y1="427.5" x2="127" y2="441.5" stroke="#303030" stroke-width="1"/>
<path d="M128.5,426.5 L147.5,426.5 L152,432.5 L147.5,438.5 L127,438.5 L127,428.0 Z" fill="#afeeee" stroke="#303030" stroke-width="1" stroke-linejoin="round"/>
<svg x="127" y="426" width="23.5" height="13" overflow="hidden"><text x="1.8" y="10" font-family="Liberation Sans, sans-serif" stroke="#000" stroke-width="0.2" font-size="8.4" textLength="18.9" lengthAdjust="spacingAndGlyphs" fill="#000">22:00</text></svg>
<line x1="203.5" y1="427.5" x2="203.5" y2="441.5" stroke="#303030" stroke-width="1"/>
<path d="M205.0,426.5 L220.5,426.5 L225,432.5 L220.5,438.5 L203.5,438.5 L203.5,428.0 Z" fill="#ffffff" stroke="#303030" stroke-width="1" stroke-linejoin="round"/>
<svg x="203.5" y="426" width="20.0" height="13" overflow="hidden"><text x="1.8" y="10" font-family="Liberation Sans, sans-serif" stroke="#000" stroke-width="0.2" font-size="8.4" textLength="18.9" lengthAdjust="spacingAndGlyphs" fill="#000">08:00</text></svg>
<line x1="226.5" y1="427.5" x2="226.5" y2="441.5" stroke="#303030" stroke-width="1"/>
<path d="M228.0,426.5 L245.5,426.5 L250,432.5 L245.5,438.5 L226.5,438.5 L226.5,428.0 Z" fill="#ffffff" stroke="#303030" stroke-width="1" stroke-linejoin="round"/>
<svg x="226.5" y="426" width="22.0" height="13" overflow="hidden"><text x="1.8" y="10" font-family="Liberation Sans, sans-serif" stroke="#000" stroke-width="0.2" font-size="8.4" textLength="18.9" lengthAdjust="spacingAndGlyphs" fill="#000">11:00</text></svg>
<line x1="250" y1="427.5" x2="250" y2="441.5" stroke="#303030" stroke-width="1"/>
<path d="M251.5,426.5 L250.5,426.5 L255,432.5 L250.5,438.5 L250,438.5 L250,428.0 Z" fill="#ffffff" stroke="#303030" stroke-width="1" stroke-linejoin="round"/>
<line x1="254" y1="427.5" x2="254" y2="441.5" stroke="#303030" stroke-width="1"/>
<path d="M255.5,426.5 L258,426.5 L259,427.5 L259,438.5 L254,438.5 L254,428.0 Z" fill="#ffffff" stroke="#303030" stroke-width="1" stroke-linejoin="round"/>
<line x1="260" y1="427.5" x2="260" y2="441.5" stroke="#303030" stroke-width="1"/>
<path d="M261.5,426.5 L282.5,426.5 L287,432.5 L282.5,438.5 L260,438.5 L260,428.0 Z" fill="#ffffff" stroke="#303030" stroke-width="1" stroke-linejoin="round"/>
<svg x="260" y="426" width="25.5" height="13" overflow="hidden"><text x="1.8" y="10" font-family="Liberation Sans, sans-serif" stroke="#000" stroke-width="0.2" font-size="8.4" textLength="18.9" lengthAdjust="spacingAndGlyphs" fill="#000">15:55</text></svg>
<line x1="328.5" y1="427.5" x2="328.5" y2="441.5" stroke="#303030" stroke-width="1"/>
<path d="M330.0,426.5 L349.5,426.5 L354,432.5 L349.5,438.5 L328.5,438.5 L328.5,428.0 Z" fill="#ffffff" stroke="#303030" stroke-width="1" stroke-linejoin="round"/>
<svg x="328.5" y="426" width="24.0" height="13" overflow="hidden"><text x="1.8" y="10" font-family="Liberation Sans, sans-serif" stroke="#000" stroke-width="0.2" font-size="8.4" textLength="18.9" lengthAdjust="spacingAndGlyphs" fill="#000">01:50</text></svg>
<line x1="370.5" y1="427.5" x2="370.5" y2="441.5" stroke="#303030" stroke-width="1"/>
<path d="M372.0,426.5 L376,426.5 L377,427.5 L377,438.5 L370.5,438.5 L370.5,428.0 Z" fill="#afeeee" stroke="#303030" stroke-width="1" stroke-linejoin="round"/>
<svg x="370.5" y="426" width="5.9" height="13" overflow="hidden"><text x="1.8" y="10" font-family="Liberation Sans, sans-serif" stroke="#000" stroke-width="0.2" font-size="8.4" textLength="4.2" lengthAdjust="spacingAndGlyphs" fill="#000">0</text></svg>
<line x1="378" y1="427.5" x2="378" y2="441.5" stroke="#303030" stroke-width="1"/>
<path d="M379.5,426.5 L387.5,426.5 L388.5,427.5 L388.5,438.5 L378,438.5 L378,428.0 Z" fill="#afeeee" stroke="#303030" stroke-width="1" stroke-linejoin="round"/>
<svg x="378" y="426" width="9.9" height="13" overflow="hidden"><text x="1.8" y="10" font-family="Liberation Sans, sans-serif" stroke="#000" stroke-width="0.2" font-size="8.4" textLength="8.4" lengthAdjust="spacingAndGlyphs" fill="#000">08</text></svg>
<line x1="389.5" y1="427.5" x2="389.5" y2="441.5" stroke="#303030" stroke-width="1"/>
<path d="M391.0,426.5 L391,426.5 L392,427.5 L392,438.5 L389.5,438.5 L389.5,428.0 Z" fill="#ffb6c1" stroke="#303030" stroke-width="1" stroke-linejoin="round"/>
<line x1="393.5" y1="427.5" x2="393.5" y2="441.5" stroke="#303030" stroke-width="1"/>
<path d="M395.0,426.5 L414,426.5 L415,427.5 L415,438.5 L393.5,438.5 L393.5,428.0 Z" fill="#ffffff" stroke="#303030" stroke-width="1" stroke-linejoin="round"/>
<svg x="393.5" y="426" width="20.9" height="13" overflow="hidden"><text x="1.8" y="10" font-family="Liberation Sans, sans-serif" stroke="#000" stroke-width="0.2" font-size="8.4" textLength="18.9" lengthAdjust="spacingAndGlyphs" fill="#000">10:00</text></svg>
<line x1="416" y1="427.5" x2="416" y2="441.5" stroke="#303030" stroke-width="1"/>
<path d="M417.5,426.5 L418,426.5 L419,427.5 L419,438.5 L416,438.5 L416,428.0 Z" fill="#ffffff" stroke="#303030" stroke-width="1" stroke-linejoin="round"/>
<line x1="420" y1="427.5" x2="420" y2="441.5" stroke="#303030" stroke-width="1"/>
<path d="M421.5,426.5 L425,426.5 L426,427.5 L426,438.5 L420,438.5 L420,428.0 Z" fill="#afeeee" stroke="#303030" stroke-width="1" stroke-linejoin="round"/>
<svg x="420" y="426" width="5.4" height="13" overflow="hidden"><text x="1.8" y="10" font-family="Liberation Sans, sans-serif" stroke="#000" stroke-width="0.2" font-size="8.4" textLength="4.2" lengthAdjust="spacingAndGlyphs" fill="#000">1</text></svg>
<line x1="427.5" y1="427.5" x2="427.5" y2="441.5" stroke="#303030" stroke-width="1"/>
<path d="M429.0,426.5 L428.5,426.5 L429.5,427.5 L429.5,438.5 L427.5,438.5 L427.5,428.0 Z" fill="#afeeee" stroke="#303030" stroke-width="1" stroke-linejoin="round"/>
<line x1="431" y1="427.5" x2="431" y2="441.5" stroke="#303030" stroke-width="1"/>
<path d="M432.5,426.5 L450.5,426.5 L455,432.5 L450.5,438.5 L431,438.5 L431,428.0 Z" fill="#ffffff" stroke="#303030" stroke-width="1" stroke-linejoin="round"/>
<svg x="431" y="426" width="22.5" height="13" overflow="hidden"><text x="1.8" y="10" font-family="Liberation Sans, sans-serif" stroke="#000" stroke-width="0.2" font-size="8.4" textLength="18.9" lengthAdjust="spacingAndGlyphs" fill="#000">15:00</text></svg>
<line x1="455" y1="427.5" x2="455" y2="441.5" stroke="#303030" stroke-width="1"/>
<path d="M456.5,426.5 L456.5,426.5 L461,432.5 L456.5,438.5 L455,438.5 L455,428.0 Z" fill="#ffffff" stroke="#303030" stroke-width="1" stroke-linejoin="round"/>
<svg x="455" y="426" width="4.5" height="13" overflow="hidden"><text x="1.8" y="10" font-family="Liberation Sans, sans-serif" stroke="#000" stroke-width="0.2" font-size="8.4" textLength="4.2" lengthAdjust="spacingAndGlyphs" fill="#000">1</text></svg>
<line x1="461" y1="427.5" x2="461" y2="441.5" stroke="#303030" stroke-width="1"/>
<path d="M462.5,426.5 L471.5,426.5 L476,432.5 L471.5,438.5 L461,438.5 L461,428.0 Z" fill="#afeeee" stroke="#303030" stroke-width="1" stroke-linejoin="round"/>
<svg x="461" y="426" width="13.5" height="13" overflow="hidden"><text x="1.8" y="10" font-family="Liberation Sans, sans-serif" stroke="#000" stroke-width="0.2" font-size="8.4" textLength="10.5" lengthAdjust="spacingAndGlyphs" fill="#000">:30</text></svg>
<line x1="503.5" y1="427.5" x2="503.5" y2="441.5" stroke="#303030" stroke-width="1"/>
<path d="M505.0,426.5 L524.0,426.5 L528.5,432.5 L524.0,438.5 L503.5,438.5 L503.5,428.0 Z" fill="#afeeee" stroke="#303030" stroke-width="1" stroke-linejoin="round"/>
<svg x="503.5" y="426" width="23.5" height="13" overflow="hidden"><text x="1.8" y="10" font-family="Liberation Sans, sans-serif" stroke="#000" stroke-width="0.2" font-size="8.4" textLength="18.9" lengthAdjust="spacingAndGlyphs" fill="#000">00:45</text></svg>
<line x1="549" y1="427.5" x2="549" y2="441.5" stroke="#303030" stroke-width="1"/>
<path d="M550.5,426.5 L558,426.5 L559,427.5 L559,438.5 L549,438.5 L549,428.0 Z" fill="#ffb6c1" stroke="#303030" stroke-width="1" stroke-linejoin="round"/>
<svg x="549" y="426" width="9.4" height="13" overflow="hidden"><text x="1.8" y="10" font-family="Liberation Sans, sans-serif" stroke="#000" stroke-width="0.2" font-size="8.4" textLength="8.4" lengthAdjust="spacingAndGlyphs" fill="#000">06</text></svg>
<line x1="560.5" y1="427.5" x2="560.5" y2="441.5" stroke="#303030" stroke-width="1"/>
<path d="M562.0,426.5 L574,426.5 L575,427.5 L575,438.5 L560.5,438.5 L560.5,428.0 Z" fill="#afeeee" stroke="#303030" stroke-width="1" stroke-linejoin="round"/>
<svg x="560.5" y="426" width="13.9" height="13" overflow="hidden"><text x="1.8" y="10" font-family="Liberation Sans, sans-serif" stroke="#000" stroke-width="0.2" font-size="8.4" textLength="14.7" lengthAdjust="spacingAndGlyphs" fill="#000">08:0</text></svg>
<line x1="576" y1="427.5" x2="576" y2="441.5" stroke="#303030" stroke-width="1"/>
<path d="M577.5,426.5 L577.5,426.5 L578.5,427.5 L578.5,438.5 L576,438.5 L576,428.0 Z" fill="#afeeee" stroke="#303030" stroke-width="1" stroke-linejoin="round"/>
<line x1="603" y1="427.5" x2="603" y2="441.5" stroke="#303030" stroke-width="1"/>
<path d="M604.5,426.5 L608,426.5 L609,427.5 L609,438.5 L603,438.5 L603,428.0 Z" fill="#ffffff" stroke="#303030" stroke-width="1" stroke-linejoin="round"/>
<svg x="603" y="426" width="5.4" height="13" overflow="hidden"><text x="1.8" y="10" font-family="Liberation Sans, sans-serif" stroke="#000" stroke-width="0.2" font-size="8.4" textLength="6.3" lengthAdjust="spacingAndGlyphs" fill="#000"> 1</text></svg>
<line x1="579.5" y1="427.5" x2="579.5" y2="441.5" stroke="#303030" stroke-width="1"/>
<path d="M581.0,426.5 L600.5,426.5 L605,432.5 L600.5,438.5 L579.5,438.5 L579.5,428.0 Z" fill="#afeeee" stroke="#303030" stroke-width="1" stroke-linejoin="round"/>
<svg x="579.5" y="426" width="24.0" height="13" overflow="hidden"><text x="1.8" y="10" font-family="Liberation Sans, sans-serif" stroke="#000" stroke-width="0.2" font-size="8.4" textLength="18.9" lengthAdjust="spacingAndGlyphs" fill="#000">10:53</text></svg>
<line x1="610.5" y1="427.5" x2="610.5" y2="441.5" stroke="#303030" stroke-width="1"/>
<path d="M612.0,426.5 L619.5,426.5 L620.5,427.5 L620.5,438.5 L610.5,438.5 L610.5,428.0 Z" fill="#afeeee" stroke="#303030" stroke-width="1" stroke-linejoin="round"/>
<svg x="610.5" y="426" width="9.4" height="13" overflow="hidden"><text x="1.8" y="10" font-family="Liberation Sans, sans-serif" stroke="#000" stroke-width="0.2" font-size="8.4" textLength="8.4" lengthAdjust="spacingAndGlyphs" fill="#000">14</text></svg>
<line x1="621.5" y1="427.5" x2="621.5" y2="441.5" stroke="#303030" stroke-width="1"/>
<path d="M623.0,426.5 L630.5,426.5 L631.5,427.5 L631.5,438.5 L621.5,438.5 L621.5,428.0 Z" fill="#afeeee" stroke="#303030" stroke-width="1" stroke-linejoin="round"/>
<svg x="621.5" y="426" width="9.4" height="13" overflow="hidden"><text x="1.8" y="10" font-family="Liberation Sans, sans-serif" stroke="#000" stroke-width="0.2" font-size="8.4" textLength="8.4" lengthAdjust="spacingAndGlyphs" fill="#000">16</text></svg>
<line x1="632.5" y1="427.5" x2="632.5" y2="441.5" stroke="#303030" stroke-width="1"/>
<path d="M634.0,426.5 L654.0,426.5 L658.5,432.5 L654.0,438.5 L632.5,438.5 L632.5,428.0 Z" fill="#afeeee" stroke="#303030" stroke-width="1" stroke-linejoin="round"/>
<svg x="632.5" y="426" width="24.5" height="13" overflow="hidden"><text x="1.8" y="10" font-family="Liberation Sans, sans-serif" stroke="#000" stroke-width="0.2" font-size="8.4" textLength="18.9" lengthAdjust="spacingAndGlyphs" fill="#000">17:30</text></svg>
<line x1="686.5" y1="427.5" x2="686.5" y2="441.5" stroke="#303030" stroke-width="1"/>
<path d="M688.0,426.5 L691,426.5 L692,427.5 L692,438.5 L686.5,438.5 L686.5,428.0 Z" fill="#ffffff" stroke="#303030" stroke-width="1" stroke-linejoin="round"/>
<svg x="686.5" y="426" width="4.9" height="13" overflow="hidden"><text x="1.8" y="10" font-family="Liberation Sans, sans-serif" stroke="#000" stroke-width="0.2" font-size="8.4" textLength="4.2" lengthAdjust="spacingAndGlyphs" fill="#000">0</text></svg>
<line x1="693.5" y1="427.5" x2="693.5" y2="441.5" stroke="#303030" stroke-width="1"/>
<path d="M695.0,426.5 L713.5,426.5 L718,432.5 L713.5,438.5 L693.5,438.5 L693.5,428.0 Z" fill="#ffb6c1" stroke="#303030" stroke-width="1" stroke-linejoin="round"/>
<svg x="693.5" y="426" width="23.0" height="13" overflow="hidden"><text x="1.8" y="10" font-family="Liberation Sans, sans-serif" stroke="#000" stroke-width="0.2" font-size="8.4" textLength="18.9" lengthAdjust="spacingAndGlyphs" fill="#000">01:50</text></svg>
<line x1="754.5" y1="427.5" x2="754.5" y2="441.5" stroke="#303030" stroke-width="1"/>
<path d="M756.0,426.5 L767,426.5 L768,427.5 L768,438.5 L754.5,438.5 L754.5,428.0 Z" fill="#ffffff" stroke="#303030" stroke-width="1" stroke-linejoin="round"/>
<svg x="754.5" y="426" width="12.9" height="13" overflow="hidden"><text x="1.8" y="10" font-family="Liberation Sans, sans-serif" stroke="#000" stroke-width="0.2" font-size="8.4" textLength="10.5" lengthAdjust="spacingAndGlyphs" fill="#000">09:</text></svg>
<line x1="769" y1="427.5" x2="769" y2="441.5" stroke="#303030" stroke-width="1"/>
<path d="M770.5,426.5 L787.5,426.5 L792,432.5 L787.5,438.5 L769,438.5 L769,428.0 Z" fill="#ffffff" stroke="#303030" stroke-width="1" stroke-linejoin="round"/>
<svg x="769" y="426" width="21.5" height="13" overflow="hidden"><text x="1.8" y="10" font-family="Liberation Sans, sans-serif" stroke="#000" stroke-width="0.2" font-size="8.4" textLength="18.9" lengthAdjust="spacingAndGlyphs" fill="#000">11:30</text></svg>
<line x1="792" y1="427.5" x2="792" y2="441.5" stroke="#303030" stroke-width="1"/>
<path d="M793.5,426.5 L802,426.5 L803,427.5 L803,438.5 L792,438.5 L792,428.0 Z" fill="#ffffff" stroke="#303030" stroke-width="1" stroke-linejoin="round"/>
<svg x="792" y="426" width="10.4" height="13" overflow="hidden"><text x="1.8" y="10" font-family="Liberation Sans, sans-serif" stroke="#000" stroke-width="0.2" font-size="8.4" textLength="8.4" lengthAdjust="spacingAndGlyphs" fill="#000">14</text></svg>
<line x1="804" y1="427.5" x2="804" y2="441.5" stroke="#303030" stroke-width="1"/>
<path d="M805.5,426.5 L805,426.5 L806,427.5 L806,438.5 L804,438.5 L804,428.0 Z" fill="#ffffff" stroke="#303030" stroke-width="1" stroke-linejoin="round"/>
<line x1="807.5" y1="427.5" x2="807.5" y2="441.5" stroke="#303030" stroke-width="1"/>
<path d="M809.0,426.5 L811,426.5 L812,427.5 L812,438.5 L807.5,438.5 L807.5,428.0 Z" fill="#ffffff" stroke="#303030" stroke-width="1" stroke-linejoin="round"/>
<svg x="807.5" y="426" width="3.9" height="13" overflow="hidden"><text x="1.8" y="10" font-family="Liberation Sans, sans-serif" stroke="#000" stroke-width="0.2" font-size="8.4" textLength="4.2" lengthAdjust="spacingAndGlyphs" fill="#000">1</text></svg>
<line x1="813.5" y1="427.5" x2="813.5" y2="441.5" stroke="#303030" stroke-width="1"/>
<path d="M815.0,426.5 L835.5,426.5 L840,432.5 L835.5,438.5 L813.5,438.5 L813.5,428.0 Z" fill="#ffffff" stroke="#303030" stroke-width="1" stroke-linejoin="round"/>
<svg x="813.5" y="426" width="25.0" height="13" overflow="hidden"><text x="1.8" y="10" font-family="Liberation Sans, sans-serif" stroke="#000" stroke-width="0.2" font-size="8.4" textLength="18.9" lengthAdjust="spacingAndGlyphs" fill="#000">17:15</text></svg>
<line x1="862.5" y1="427.5" x2="862.5" y2="441.5" stroke="#303030" stroke-width="1"/>
<path d="M864.0,426.5 L876,426.5 L877,427.5 L877,438.5 L862.5,438.5 L862.5,428.0 Z" fill="#ffffff" stroke="#303030" stroke-width="1" stroke-linejoin="round"/>
<svg x="862.5" y="426" width="13.9" height="13" overflow="hidden"><text x="1.8" y="10" font-family="Liberation Sans, sans-serif" stroke="#000" stroke-width="0.2" font-size="8.4" textLength="10.5" lengthAdjust="spacingAndGlyphs" fill="#000">23:</text></svg>
<line x1="878" y1="427.5" x2="878" y2="441.5" stroke="#303030" stroke-width="1"/>
<path d="M879.5,426.5 L889.5,426.5 L890.5,427.5 L890.5,438.5 L878,438.5 L878,428.0 Z" fill="#ffffff" stroke="#303030" stroke-width="1" stroke-linejoin="round"/>
<svg x="878" y="426" width="11.9" height="13" overflow="hidden"><text x="1.8" y="10" font-family="Liberation Sans, sans-serif" stroke="#000" stroke-width="0.2" font-size="8.4" textLength="10.5" lengthAdjust="spacingAndGlyphs" fill="#000">01:</text></svg>
<line x1="891.5" y1="427.5" x2="891.5" y2="441.5" stroke="#303030" stroke-width="1"/>
<path d="M893.0,426.5 L912.5,426.5 L917,432.5 L912.5,438.5 L891.5,438.5 L891.5,428.0 Z" fill="#ffffff" stroke="#303030" stroke-width="1" stroke-linejoin="round"/>
<svg x="891.5" y="426" width="24.0" height="13" overflow="hidden"><text x="1.8" y="10" font-family="Liberation Sans, sans-serif" stroke="#000" stroke-width="0.2" font-size="8.4" textLength="18.9" lengthAdjust="spacingAndGlyphs" fill="#000">03:35</text></svg>
<line x1="930" y1="427.5" x2="930" y2="441.5" stroke="#303030" stroke-width="1"/>
<path d="M931.5,426.5 L931,426.5 L932,427.5 L932,438.5 L930,438.5 L930,428.0 Z" fill="#d8d8d8" stroke="#303030" stroke-width="1" stroke-linejoin="round"/>
<line x1="932.5" y1="427.5" x2="932.5" y2="441.5" stroke="#303030" stroke-width="1"/>
<path d="M934.0,426.5 L934,426.5 L935,427.5 L935,438.5 L932.5,438.5 L932.5,428.0 Z" fill="#d8d8d8" stroke="#303030" stroke-width="1" stroke-linejoin="round"/>
<line x1="935.5" y1="427.5" x2="935.5" y2="441.5" stroke="#303030" stroke-width="1"/>
<path d="M937.0,426.5 L937.5,426.5 L938.5,427.5 L938.5,438.5 L935.5,438.5 L935.5,428.0 Z" fill="#ffffff" stroke="#303030" stroke-width="1" stroke-linejoin="round"/>
<line x1="940" y1="427.5" x2="940" y2="441.5" stroke="#303030" stroke-width="1"/>
<path d="M941.5,426.5 L946,426.5 L947,427.5 L947,438.5 L940,438.5 L940,428.0 Z" fill="#ffffff" stroke="#303030" stroke-width="1" stroke-linejoin="round"/>
<svg x="940" y="426" width="6.4" height="13" overflow="hidden"><text x="1.8" y="10" font-family="Liberation Sans, sans-serif" stroke="#000" stroke-width="0.2" font-size="8.4" textLength="4.2" lengthAdjust="spacingAndGlyphs" fill="#000">1</text></svg>
<line x1="948" y1="427.5" x2="948" y2="441.5" stroke="#303030" stroke-width="1"/>
<path d="M949.5,426.5 L957,426.5 L958,427.5 L958,438.5 L948,438.5 L948,428.0 Z" fill="#ffffff" stroke="#303030" stroke-width="1" stroke-linejoin="round"/>
<svg x="948" y="426" width="9.4" height="13" overflow="hidden"><text x="1.8" y="10" font-family="Liberation Sans, sans-serif" stroke="#000" stroke-width="0.2" font-size="8.4" textLength="8.4" lengthAdjust="spacingAndGlyphs" fill="#000">11</text></svg>
<rect x="2" y="2" width="957" height="1" fill="#000"/>
<rect x="2" y="2" width="1" height="546" fill="#000"/>
<rect x="958" y="2" width="1" height="546" fill="#000"/>
<rect x="2" y="547" width="957" height="1" fill="#000"/>
<rect x="2" y="441.4" width="956.5" height="3.5" fill="#808080"/>
<rect x="2" y="441.4" width="1" height="3.5" fill="#404040"/>
<rect x="958" y="444.3" width="4" height="1" fill="#000"/>
<line x1="769" y1="499.6" x2="958" y2="499.6" stroke="#c2c2c2" stroke-width="1.3" stroke-dasharray="4.8 2.8"/>
<rect x="5.00" y="481.6" width="1.4" height="18.4" fill="#505050"/>
<rect x="8.80" y="483.4" width="1.4" height="16.6" fill="#505050"/>
<rect x="12.60" y="486.4" width="1.4" height="13.6" fill="#505050"/>
<rect x="16.40" y="490.4" width="1.4" height="9.6" fill="#505050"/>
<rect x="20.20" y="495.2" width="1.4" height="4.8" fill="#505050"/>
<rect x="24.00" y="494.2" width="1.4" height="5.8" fill="#505050"/>
<rect x="27.80" y="494.0" width="1.4" height="6.0" fill="#505050"/>
<rect x="31.60" y="492.0" width="1.4" height="8.0" fill="#505050"/>
<rect x="35.40" y="489.6" width="1.4" height="10.4" fill="#505050"/>
<rect x="39.20" y="487.2" width="1.4" height="12.8" fill="#505050"/>
<rect x="43.00" y="487.2" width="1.4" height="12.8" fill="#505050"/>
<rect x="46.80" y="491.6" width="1.4" height="8.4" fill="#505050"/>
<rect x="50.60" y="494.2" width="1.4" height="5.8" fill="#505050"/>
<rect x="54.40" y="494.2" width="1.4" height="5.8" fill="#505050"/>
<rect x="58.20" y="495.2" width="1.4" height="4.8" fill="#505050"/>
<rect x="62.00" y="494.8" width="1.4" height="5.2" fill="#505050"/>
<rect x="65.80" y="492.8" width="1.4" height="7.2" fill="#505050"/>
<rect x="69.60" y="491.2" width="1.4" height="8.8" fill="#505050"/>
<rect x="73.40" y="488.2" width="1.4" height="11.8" fill="#505050"/>
<rect x="77.20" y="487.2" width="1.4" height="12.8" fill="#505050"/>
<rect x="81.00" y="485.6" width="1.4" height="14.4" fill="#505050"/>
<rect x="84.80" y="482.4" width="1.4" height="17.6" fill="#505050"/>
<rect x="88.60" y="476.2" width="1.4" height="23.8" fill="#505050"/>
<rect x="92.40" y="469.2" width="1.4" height="30.8" fill="#505050"/>
<rect x="96.20" y="466.4" width="1.4" height="33.6" fill="#505050"/>
<rect x="100.00" y="461.8" width="1.4" height="38.2" fill="#505050"/>
<rect x="103.80" y="458.0" width="1.4" height="42.0" fill="#505050"/>
<rect x="107.60" y="458.0" width="1.4" height="42.0" fill="#505050"/>
<rect x="111.40" y="458.0" width="1.4" height="42.0" fill="#505050"/>
<rect x="115.20" y="458.0" width="1.4" height="42.0" fill="#505050"/>
<rect x="119.00" y="458.0" width="1.4" height="42.0" fill="#505050"/>
<rect x="122.80" y="458.0" width="1.4" height="42.0" fill="#505050"/>
<rect x="126.60" y="458.0" width="1.4" height="42.0" fill="#505050"/>
<rect x="130.40" y="457.6" width="1.4" height="42.4" fill="#505050"/>
<rect x="134.20" y="454.4" width="1.4" height="45.6" fill="#505050"/>
<rect x="138.00" y="456.8" width="1.4" height="43.2" fill="#505050"/>
<rect x="141.80" y="458.0" width="1.4" height="42.0" fill="#505050"/>
<rect x="145.60" y="460.0" width="1.4" height="40.0" fill="#505050"/>
<rect x="149.40" y="457.0" width="1.4" height="43.0" fill="#505050"/>
<rect x="153.20" y="458.0" width="1.4" height="42.0" fill="#505050"/>
<rect x="157.00" y="460.0" width="1.4" height="40.0" fill="#505050"/>
<rect x="160.80" y="463.6" width="1.4" height="36.4" fill="#505050"/>
<rect x="164.60" y="467.2" width="1.4" height="32.8" fill="#505050"/>
<rect x="168.40" y="468.4" width="1.4" height="31.6" fill="#505050"/>
<rect x="172.20" y="470.2" width="1.4" height="29.8" fill="#505050"/>
<rect x="176.00" y="472.4" width="1.4" height="27.6" fill="#505050"/>
<rect x="179.80" y="475.0" width="1.4" height="25.0" fill="#505050"/>
<rect x="183.60" y="478.0" width="1.4" height="22.0" fill="#505050"/>
<rect x="187.40" y="480.8" width="1.4" height="19.2" fill="#505050"/>
<rect x="191.20" y="482.8" width="1.4" height="17.2" fill="#505050"/>
<rect x="195.00" y="484.4" width="1.4" height="15.6" fill="#505050"/>
<rect x="198.80" y="485.2" width="1.4" height="14.8" fill="#505050"/>
<rect x="202.60" y="485.2" width="1.4" height="14.8" fill="#505050"/>
<rect x="206.40" y="492.0" width="1.4" height="8.0" fill="#505050"/>
<rect x="210.20" y="497.8" width="1.4" height="2.2" fill="#505050"/>
<rect x="214.00" y="498.8" width="1.4" height="1.2" fill="#505050"/>
<rect x="217.90" y="499.2" width="1.2" height="1.1" fill="#707070"/>
<rect x="221.60" y="494.0" width="1.4" height="6.0" fill="#505050"/>
<rect x="225.40" y="492.4" width="1.4" height="7.6" fill="#505050"/>
<rect x="229.20" y="490.8" width="1.4" height="9.2" fill="#505050"/>
<rect x="233.00" y="488.2" width="1.4" height="11.8" fill="#505050"/>
<rect x="236.80" y="485.2" width="1.4" height="14.8" fill="#505050"/>
<rect x="240.60" y="481.6" width="1.4" height="18.4" fill="#505050"/>
<rect x="244.40" y="479.8" width="1.4" height="20.2" fill="#505050"/>
<rect x="248.20" y="476.8" width="1.4" height="23.2" fill="#505050"/>
<rect x="252.00" y="478.0" width="1.4" height="22.0" fill="#505050"/>
<rect x="255.80" y="481.6" width="1.4" height="18.4" fill="#505050"/>
<rect x="259.60" y="488.2" width="1.4" height="11.8" fill="#505050"/>
<rect x="263.40" y="490.0" width="1.4" height="10.0" fill="#505050"/>
<rect x="267.20" y="490.0" width="1.4" height="10.0" fill="#505050"/>
<rect x="271.00" y="493.0" width="1.4" height="7.0" fill="#505050"/>
<rect x="274.80" y="494.0" width="1.4" height="6.0" fill="#505050"/>
<rect x="278.60" y="494.0" width="1.4" height="6.0" fill="#505050"/>
<rect x="282.40" y="493.0" width="1.4" height="7.0" fill="#505050"/>
<rect x="286.20" y="492.8" width="1.4" height="7.2" fill="#505050"/>
<rect x="290.00" y="491.2" width="1.4" height="8.8" fill="#505050"/>
<rect x="293.80" y="490.4" width="1.4" height="9.6" fill="#505050"/>
<rect x="297.60" y="488.2" width="1.4" height="11.8" fill="#505050"/>
<rect x="301.40" y="490.0" width="1.4" height="10.0" fill="#505050"/>
<rect x="305.20" y="492.0" width="1.4" height="8.0" fill="#505050"/>
<rect x="309.00" y="493.0" width="1.4" height="7.0" fill="#505050"/>
<rect x="312.80" y="494.0" width="1.4" height="6.0" fill="#505050"/>
<rect x="316.60" y="494.8" width="1.4" height="5.2" fill="#505050"/>
<rect x="320.40" y="497.2" width="1.4" height="2.8" fill="#505050"/>
<rect x="324.20" y="498.0" width="1.4" height="2.0" fill="#505050"/>
<rect x="328.00" y="497.8" width="1.4" height="2.2" fill="#505050"/>
<rect x="331.80" y="496.8" width="1.4" height="3.2" fill="#505050"/>
<rect x="335.60" y="497.6" width="1.4" height="2.4" fill="#505050"/>
<rect x="339.40" y="498.0" width="1.4" height="2.0" fill="#505050"/>
<rect x="343.20" y="497.2" width="1.4" height="2.8" fill="#505050"/>
<rect x="347.00" y="495.4" width="1.4" height="4.6" fill="#505050"/>
<rect x="350.80" y="493.2" width="1.4" height="6.8" fill="#505050"/>
<rect x="354.60" y="493.2" width="1.4" height="6.8" fill="#505050"/>
<rect x="358.40" y="492.4" width="1.4" height="7.6" fill="#505050"/>
<rect x="362.20" y="491.2" width="1.4" height="8.8" fill="#505050"/>
<rect x="366.00" y="490.4" width="1.4" height="9.6" fill="#505050"/>
<rect x="369.80" y="490.4" width="1.4" height="9.6" fill="#505050"/>
<rect x="373.60" y="490.4" width="1.4" height="9.6" fill="#505050"/>
<rect x="377.40" y="493.0" width="1.4" height="7.0" fill="#505050"/>
<rect x="381.20" y="496.4" width="1.4" height="3.6" fill="#505050"/>
<rect x="385.00" y="496.4" width="1.4" height="3.6" fill="#505050"/>
<rect x="388.80" y="496.0" width="1.4" height="4.0" fill="#505050"/>
<rect x="392.60" y="494.0" width="1.4" height="6.0" fill="#505050"/>
<rect x="396.40" y="492.4" width="1.4" height="7.6" fill="#505050"/>
<rect x="400.20" y="489.4" width="1.4" height="10.6" fill="#505050"/>
<rect x="404.00" y="486.4" width="1.4" height="13.6" fill="#505050"/>
<rect x="407.80" y="483.6" width="1.4" height="16.4" fill="#505050"/>
<rect x="411.60" y="483.6" width="1.4" height="16.4" fill="#505050"/>
<rect x="415.40" y="482.8" width="1.4" height="17.2" fill="#505050"/>
<rect x="419.20" y="482.8" width="1.4" height="17.2" fill="#505050"/>
<rect x="423.00" y="480.8" width="1.4" height="19.2" fill="#505050"/>
<rect x="426.80" y="479.2" width="1.4" height="20.8" fill="#505050"/>
<rect x="430.60" y="479.2" width="1.4" height="20.8" fill="#505050"/>
<rect x="434.40" y="480.0" width="1.4" height="20.0" fill="#505050"/>
<rect x="438.20" y="479.2" width="1.4" height="20.8" fill="#505050"/>
<rect x="442.00" y="481.0" width="1.4" height="19.0" fill="#505050"/>
<rect x="445.80" y="481.6" width="1.4" height="18.4" fill="#505050"/>
<rect x="449.60" y="482.8" width="1.4" height="17.2" fill="#505050"/>
<rect x="453.40" y="482.8" width="1.4" height="17.2" fill="#505050"/>
<rect x="457.20" y="482.8" width="1.4" height="17.2" fill="#505050"/>
<rect x="461.00" y="477.6" width="1.4" height="22.4" fill="#505050"/>
<rect x="464.80" y="474.8" width="1.4" height="25.2" fill="#505050"/>
<rect x="468.60" y="472.8" width="1.4" height="27.2" fill="#505050"/>
<rect x="472.40" y="472.0" width="1.4" height="28.0" fill="#505050"/>
<rect x="476.20" y="470.0" width="1.4" height="30.0" fill="#505050"/>
<rect x="480.00" y="470.0" width="1.4" height="30.0" fill="#505050"/>
<rect x="483.80" y="470.8" width="1.4" height="29.2" fill="#505050"/>
<rect x="487.60" y="472.0" width="1.4" height="28.0" fill="#505050"/>
<rect x="491.40" y="473.8" width="1.4" height="26.2" fill="#505050"/>
<rect x="495.20" y="476.8" width="1.4" height="23.2" fill="#505050"/>
<rect x="499.00" y="478.0" width="1.4" height="22.0" fill="#505050"/>
<rect x="502.80" y="479.8" width="1.4" height="20.2" fill="#505050"/>
<rect x="506.60" y="481.6" width="1.4" height="18.4" fill="#505050"/>
<rect x="510.40" y="483.4" width="1.4" height="16.6" fill="#505050"/>
<rect x="514.20" y="483.4" width="1.4" height="16.6" fill="#505050"/>
<rect x="518.00" y="484.4" width="1.4" height="15.6" fill="#505050"/>
<rect x="521.80" y="487.0" width="1.4" height="13.0" fill="#505050"/>
<rect x="525.60" y="488.2" width="1.4" height="11.8" fill="#505050"/>
<rect x="529.40" y="488.2" width="1.4" height="11.8" fill="#505050"/>
<rect x="533.20" y="489.2" width="1.4" height="10.8" fill="#505050"/>
<rect x="537.00" y="488.2" width="1.4" height="11.8" fill="#505050"/>
<rect x="540.80" y="487.0" width="1.4" height="13.0" fill="#505050"/>
<rect x="544.60" y="486.4" width="1.4" height="13.6" fill="#505050"/>
<rect x="548.40" y="484.4" width="1.4" height="15.6" fill="#505050"/>
<rect x="552.20" y="484.4" width="1.4" height="15.6" fill="#505050"/>
<rect x="556.00" y="483.6" width="1.4" height="16.4" fill="#505050"/>
<rect x="559.80" y="484.4" width="1.4" height="15.6" fill="#505050"/>
<rect x="563.60" y="487.2" width="1.4" height="12.8" fill="#505050"/>
<rect x="567.40" y="490.2" width="1.4" height="9.8" fill="#505050"/>
<rect x="571.20" y="491.2" width="1.4" height="8.8" fill="#505050"/>
<rect x="575.00" y="493.2" width="1.4" height="6.8" fill="#505050"/>
<rect x="578.80" y="494.0" width="1.4" height="6.0" fill="#505050"/>
<rect x="582.60" y="493.2" width="1.4" height="6.8" fill="#505050"/>
<rect x="586.40" y="496.8" width="1.4" height="3.2" fill="#505050"/>
<rect x="590.20" y="498.6" width="1.4" height="1.4" fill="#505050"/>
<rect x="594.10" y="499.2" width="1.2" height="1.1" fill="#707070"/>
<rect x="597.90" y="499.2" width="1.2" height="1.1" fill="#707070"/>
<rect x="601.70" y="499.2" width="1.2" height="1.1" fill="#707070"/>
<rect x="605.50" y="499.2" width="1.2" height="1.1" fill="#707070"/>
<rect x="609.30" y="499.2" width="1.2" height="1.1" fill="#707070"/>
<rect x="613.00" y="499.4" width="1.4" height="1.6" fill="#505050"/>
<rect x="616.80" y="499.4" width="1.4" height="2.2" fill="#505050"/>
<rect x="620.60" y="499.4" width="1.4" height="4.0" fill="#505050"/>
<rect x="624.40" y="499.4" width="1.4" height="7.6" fill="#505050"/>
<rect x="628.20" y="499.4" width="1.4" height="9.4" fill="#505050"/>
<rect x="632.00" y="499.4" width="1.4" height="11.4" fill="#505050"/>
<rect x="635.80" y="499.4" width="1.4" height="13.4" fill="#505050"/>
<rect x="639.60" y="499.4" width="1.4" height="14.2" fill="#505050"/>
<rect x="643.40" y="499.4" width="1.4" height="14.2" fill="#505050"/>
<rect x="647.20" y="499.4" width="1.4" height="15.0" fill="#505050"/>
<rect x="651.00" y="499.4" width="1.4" height="17.0" fill="#505050"/>
<rect x="654.80" y="499.4" width="1.4" height="17.8" fill="#505050"/>
<rect x="658.60" y="499.4" width="1.4" height="19.6" fill="#505050"/>
<rect x="662.40" y="499.4" width="1.4" height="20.8" fill="#505050"/>
<rect x="666.20" y="499.4" width="1.4" height="21.4" fill="#505050"/>
<rect x="670.00" y="499.4" width="1.4" height="22.4" fill="#505050"/>
<rect x="673.80" y="499.4" width="1.4" height="21.6" fill="#505050"/>
<rect x="677.60" y="499.4" width="1.4" height="20.8" fill="#505050"/>
<rect x="681.40" y="499.4" width="1.4" height="22.0" fill="#505050"/>
<rect x="685.20" y="499.4" width="1.4" height="20.8" fill="#505050"/>
<rect x="689.00" y="499.4" width="1.4" height="20.8" fill="#505050"/>
<rect x="692.80" y="499.4" width="1.4" height="20.8" fill="#505050"/>
<rect x="696.60" y="499.4" width="1.4" height="19.6" fill="#505050"/>
<rect x="700.40" y="499.4" width="1.4" height="18.8" fill="#505050"/>
<rect x="704.20" y="499.4" width="1.4" height="17.2" fill="#505050"/>
<rect x="708.00" y="499.4" width="1.4" height="14.2" fill="#505050"/>
<rect x="711.80" y="499.4" width="1.4" height="13.0" fill="#505050"/>
<rect x="715.60" y="499.4" width="1.4" height="11.2" fill="#505050"/>
<rect x="719.40" y="499.4" width="1.4" height="9.4" fill="#505050"/>
<rect x="723.20" y="499.4" width="1.4" height="7.2" fill="#505050"/>
<rect x="727.00" y="499.4" width="1.4" height="7.2" fill="#505050"/>
<rect x="730.80" y="499.4" width="1.4" height="5.6" fill="#505050"/>
<rect x="734.60" y="499.4" width="1.4" height="5.6" fill="#505050"/>
<rect x="738.40" y="499.4" width="1.4" height="5.6" fill="#505050"/>
<rect x="742.20" y="499.4" width="1.4" height="4.6" fill="#505050"/>
<rect x="746.00" y="499.4" width="1.4" height="4.6" fill="#505050"/>
<rect x="749.80" y="499.4" width="1.4" height="9.4" fill="#505050"/>
<rect x="753.60" y="499.4" width="1.4" height="14.2" fill="#505050"/>
<rect x="757.40" y="499.4" width="1.4" height="20.0" fill="#505050"/>
<rect x="761.20" y="499.4" width="1.4" height="29.2" fill="#505050"/>
<rect x="765.00" y="499.4" width="1.4" height="38.8" fill="#505050"/>
<polyline points="3.0,471.2 12.0,476.8 18.0,481.0 24.0,485.0 31.0,488.8 37.0,490.4 48.0,491.4 60.0,491.8 62.0,492.5 78.0,492.5 84.0,491.2 90.0,488.2 96.0,483.4 102.0,478.0 108.0,472.0 110.0,470.0 116.0,464.8 122.0,460.0 128.0,457.6 134.0,456.2 139.0,455.4 146.0,456.4 155.0,456.4 161.0,458.2 166.0,460.6 172.0,462.4 178.0,464.2 182.0,466.6 188.0,470.2 194.0,474.4 200.0,478.0 206.0,481.0 212.0,485.2 218.0,489.4 220.0,490.4 226.0,493.0 232.0,493.6 238.0,493.6 244.0,491.2 250.0,488.0 256.0,483.4 262.0,483.4 269.0,483.4 274.0,485.2 280.0,488.2 286.0,491.2 292.0,492.4 298.0,492.4 305.0,492.4 310.0,491.2 314.0,491.2 318.0,492.4 322.0,492.8 328.0,494.8 330.0,494.4 336.0,496.6 342.0,497.2 348.0,497.2 354.0,496.6 360.0,496.4 366.0,494.2 372.0,492.4 378.0,492.4 386.0,492.4 390.0,493.6 396.0,493.6 402.0,493.6 408.0,491.8 414.0,490.0 420.0,486.4 426.0,483.4 432.0,482.2 438.0,480.6 440.0,481.0 446.0,481.0 452.0,481.0 458.0,481.0 464.0,481.2 470.0,479.8 476.0,478.6 482.0,476.2 488.0,474.4 492.0,473.4 500.0,473.4 506.0,474.8 512.0,476.8 518.0,479.8 524.0,482.2 530.0,484.6 536.0,486.8 542.0,487.2 548.0,487.6 550.0,487.6 556.0,486.8 562.0,486.6 568.0,486.4 573.0,486.6 580.0,489.0 586.0,490.8 592.0,494.4 598.0,496.8 604.0,498.0 610.0,499.2 616.0,500.4 622.0,502.2 628.0,504.0 634.0,506.0 640.0,508.2 646.0,510.6 652.0,513.0 658.0,514.8 660.0,515.0 666.0,516.6 672.0,518.4 678.0,519.6 682.0,521.4 690.0,521.4 693.0,522.0 698.0,521.4 708.0,520.2 714.0,518.4 720.0,516.6 726.0,514.2 732.0,511.2 738.0,508.8 744.0,506.8 747.0,506.4 750.0,506.4 756.0,508.2 760.0,510.0 765.0,514.2" fill="none" stroke="#ff0000" stroke-width="0.95" stroke-linejoin="round"/>
<rect x="958" y="18.7" width="4" height="1" fill="#000"/>
<text x="964" y="22.6" font-family="Liberation Sans, sans-serif" stroke="#000" stroke-width="0.2" font-size="8.4" textLength="23.6" lengthAdjust="spacingAndGlyphs" fill="#000">1.6190</text>
<rect x="958" y="51.2" width="4" height="1" fill="#000"/>
<text x="964" y="55.1" font-family="Liberation Sans, sans-serif" stroke="#000" stroke-width="0.2" font-size="8.4" textLength="23.6" lengthAdjust="spacingAndGlyphs" fill="#000">1.6170</text>
<rect x="958" y="83.8" width="4" height="1" fill="#000"/>
<text x="964" y="87.7" font-family="Liberation Sans, sans-serif" stroke="#000" stroke-width="0.2" font-size="8.4" textLength="23.6" lengthAdjust="spacingAndGlyphs" fill="#000">1.6150</text>
<rect x="958" y="116.3" width="4" height="1" fill="#000"/>
<text x="964" y="120.2" font-family="Liberation Sans, sans-serif" stroke="#000" stroke-width="0.2" font-size="8.4" textLength="23.6" lengthAdjust="spacingAndGlyphs" fill="#000">1.6130</text>
<rect x="958" y="148.9" width="4" height="1" fill="#000"/>
<text x="964" y="152.8" font-family="Liberation Sans, sans-serif" stroke="#000" stroke-width="0.2" font-size="8.4" textLength="23.6" lengthAdjust="spacingAndGlyphs" fill="#000">1.6110</text>
<rect x="958" y="181.4" width="4" height="1" fill="#000"/>
<text x="964" y="185.3" font-family="Liberation Sans, sans-serif" stroke="#000" stroke-width="0.2" font-size="8.4" textLength="23.6" lengthAdjust="spacingAndGlyphs" fill="#000">1.6090</text>
<rect x="958" y="214.0" width="4" height="1" fill="#000"/>
<text x="964" y="217.9" font-family="Liberation Sans, sans-serif" stroke="#000" stroke-width="0.2" font-size="8.4" textLength="23.6" lengthAdjust="spacingAndGlyphs" fill="#000">1.6070</text>
<rect x="958" y="246.5" width="4" height="1" fill="#000"/>
<text x="964" y="250.4" font-family="Liberation Sans, sans-serif" stroke="#000" stroke-width="0.2" font-size="8.4" textLength="23.6" lengthAdjust="spacingAndGlyphs" fill="#000">1.6050</text>
<rect x="958" y="279.1" width="4" height="1" fill="#000"/>
<text x="964" y="283.0" font-family="Liberation Sans, sans-serif" stroke="#000" stroke-width="0.2" font-size="8.4" textLength="23.6" lengthAdjust="spacingAndGlyphs" fill="#000">1.6030</text>
<rect x="958" y="311.6" width="4" height="1" fill="#000"/>
<rect x="958" y="344.2" width="4" height="1" fill="#000"/>
<text x="964" y="348.1" font-family="Liberation Sans, sans-serif" stroke="#000" stroke-width="0.2" font-size="8.4" textLength="23.6" lengthAdjust="spacingAndGlyphs" fill="#000">1.5990</text>
<rect x="958" y="376.7" width="4" height="1" fill="#000"/>
<text x="964" y="380.6" font-family="Liberation Sans, sans-serif" stroke="#000" stroke-width="0.2" font-size="8.4" textLength="23.6" lengthAdjust="spacingAndGlyphs" fill="#000">1.5970</text>
<rect x="958" y="409.3" width="4" height="1" fill="#000"/>
<text x="964" y="413.2" font-family="Liberation Sans, sans-serif" stroke="#000" stroke-width="0.2" font-size="8.4" textLength="23.6" lengthAdjust="spacingAndGlyphs" fill="#000">1.5950</text>
<rect x="961" y="295.5" width="30" height="10.3" fill="#c0c0c0"/>
<text x="964" y="303.9" font-family="Liberation Sans, sans-serif" stroke="#fff" stroke-width="0.2" font-size="8.4" textLength="23.6" lengthAdjust="spacingAndGlyphs" fill="#fff">1.6017</text>
<rect x="961" y="306" width="29.6" height="10" fill="#ff0000"/>
<text x="964" y="314.3" font-family="Liberation Sans, sans-serif" stroke="#fff" stroke-width="0.2" font-size="8.4" textLength="23.6" lengthAdjust="spacingAndGlyphs" fill="#fff">1.6010</text>
<text x="964" y="452.2" font-family="Liberation Sans, sans-serif" stroke="#000" stroke-width="0.2" font-size="8.4" textLength="26.5" lengthAdjust="spacingAndGlyphs" fill="#000">0.00293</text>
<rect x="958" y="499.1" width="4" height="1" fill="#000"/>
<text x="964" y="502.8" font-family="Liberation Sans, sans-serif" stroke="#000" stroke-width="0.2" font-size="8.4" textLength="26.5" lengthAdjust="spacingAndGlyphs" fill="#000">0.00000</text>
<rect x="958" y="546.5" width="4" height="1" fill="#000"/>
<text x="963.5" y="545.8" font-family="Liberation Sans, sans-serif" stroke="#000" stroke-width="0.2" font-size="8.4" textLength="30" lengthAdjust="spacingAndGlyphs" fill="#000">-0.00250</text>
<text x="6" y="12.6" font-family="Liberation Sans, sans-serif" stroke="#000" stroke-width="0.2" font-size="8.6" textLength="51" lengthAdjust="spacingAndGlyphs" fill="#000">GBPUSD,M30</text>
<text x="6" y="456" font-family="Liberation Sans, sans-serif" stroke="#000" stroke-width="0.2" font-size="8.6" textLength="123" lengthAdjust="spacingAndGlyphs" fill="#000">MACD(12,26,9) -0.00203 -0.00075</text>
<text x="5" y="543.5" font-family="Liberation Sans, sans-serif" stroke="#000" stroke-width="0.2" font-size="8.6" textLength="219" lengthAdjust="spacingAndGlyphs" fill="#000">MetaTrader 5, © 2001-2014, MetaQuotes Software Corp.</text>
<rect x="2.0" y="547" width="1" height="4" fill="#000"/>
<text x="3.0" y="559.6" font-family="Liberation Sans, sans-serif" stroke="#000" stroke-width="0.2" font-size="8.6" textLength="44" lengthAdjust="spacingAndGlyphs" fill="#000">16 Oct 2014</text>
<rect x="62.8" y="547" width="1" height="4" fill="#000"/>
<text x="63.8" y="559.6" font-family="Liberation Sans, sans-serif" stroke="#000" stroke-width="0.2" font-size="8.6" textLength="47" lengthAdjust="spacingAndGlyphs" fill="#000">16 Oct 13:30</text>
<rect x="123.5" y="547" width="1" height="4" fill="#000"/>
<text x="124.5" y="559.6" font-family="Liberation Sans, sans-serif" stroke="#000" stroke-width="0.2" font-size="8.6" textLength="47" lengthAdjust="spacingAndGlyphs" fill="#000">16 Oct 21:30</text>
<rect x="184.2" y="547" width="1" height="4" fill="#000"/>
<text x="185.2" y="559.6" font-family="Liberation Sans, sans-serif" stroke="#000" stroke-width="0.2" font-size="8.6" textLength="47" lengthAdjust="spacingAndGlyphs" fill="#000">17 Oct 05:30</text>
<rect x="245.0" y="547" width="1" height="4" fill="#000"/>
<text x="246.0" y="559.6" font-family="Liberation Sans, sans-serif" stroke="#000" stroke-width="0.2" font-size="8.6" textLength="47" lengthAdjust="spacingAndGlyphs" fill="#000">17 Oct 13:30</text>
<rect x="305.8" y="547" width="1" height="4" fill="#000"/>
<text x="306.8" y="559.6" font-family="Liberation Sans, sans-serif" stroke="#000" stroke-width="0.2" font-size="8.6" textLength="47" lengthAdjust="spacingAndGlyphs" fill="#000">17 Oct 21:30</text>
<rect x="366.5" y="547" width="1" height="4" fill="#000"/>
<text x="367.5" y="559.6" font-family="Liberation Sans, sans-serif" stroke="#000" stroke-width="0.2" font-size="8.6" textLength="47" lengthAdjust="spacingAndGlyphs" fill="#000">20 Oct 06:30</text>
<rect x="427.2" y="547" width="1" height="4" fill="#000"/>
<text x="428.2" y="559.6" font-family="Liberation Sans, sans-serif" stroke="#000" stroke-width="0.2" font-size="8.6" textLength="47" lengthAdjust="spacingAndGlyphs" fill="#000">20 Oct 14:30</text>
<rect x="488.0" y="547" width="1" height="4" fill="#000"/>
<text x="489.0" y="559.6" font-family="Liberation Sans, sans-serif" stroke="#000" stroke-width="0.2" font-size="8.6" textLength="47" lengthAdjust="spacingAndGlyphs" fill="#000">20 Oct 22:30</text>
<rect x="548.8" y="547" width="1" height="4" fill="#000"/>
<text x="549.8" y="559.6" font-family="Liberation Sans, sans-serif" stroke="#000" stroke-width="0.2" font-size="8.6" textLength="47" lengthAdjust="spacingAndGlyphs" fill="#000">21 Oct 06:30</text>
<rect x="609.5" y="547" width="1" height="4" fill="#000"/>
<text x="610.5" y="559.6" font-family="Liberation Sans, sans-serif" stroke="#000" stroke-width="0.2" font-size="8.6" textLength="47" lengthAdjust="spacingAndGlyphs" fill="#000">21 Oct 14:30</text>
<rect x="670.2" y="547" width="1" height="4" fill="#000"/>
<text x="671.2" y="559.6" font-family="Liberation Sans, sans-serif" stroke="#000" stroke-width="0.2" font-size="8.6" textLength="47" lengthAdjust="spacingAndGlyphs" fill="#000">21 Oct 22:30</text>
<rect x="731.0" y="547" width="1" height="4" fill="#000"/>
<text x="732.0" y="559.6" font-family="Liberation Sans, sans-serif" stroke="#000" stroke-width="0.2" font-size="8.6" textLength="47" lengthAdjust="spacingAndGlyphs" fill="#000">22 Oct 06:30</text>
</svg>
</body></html>
